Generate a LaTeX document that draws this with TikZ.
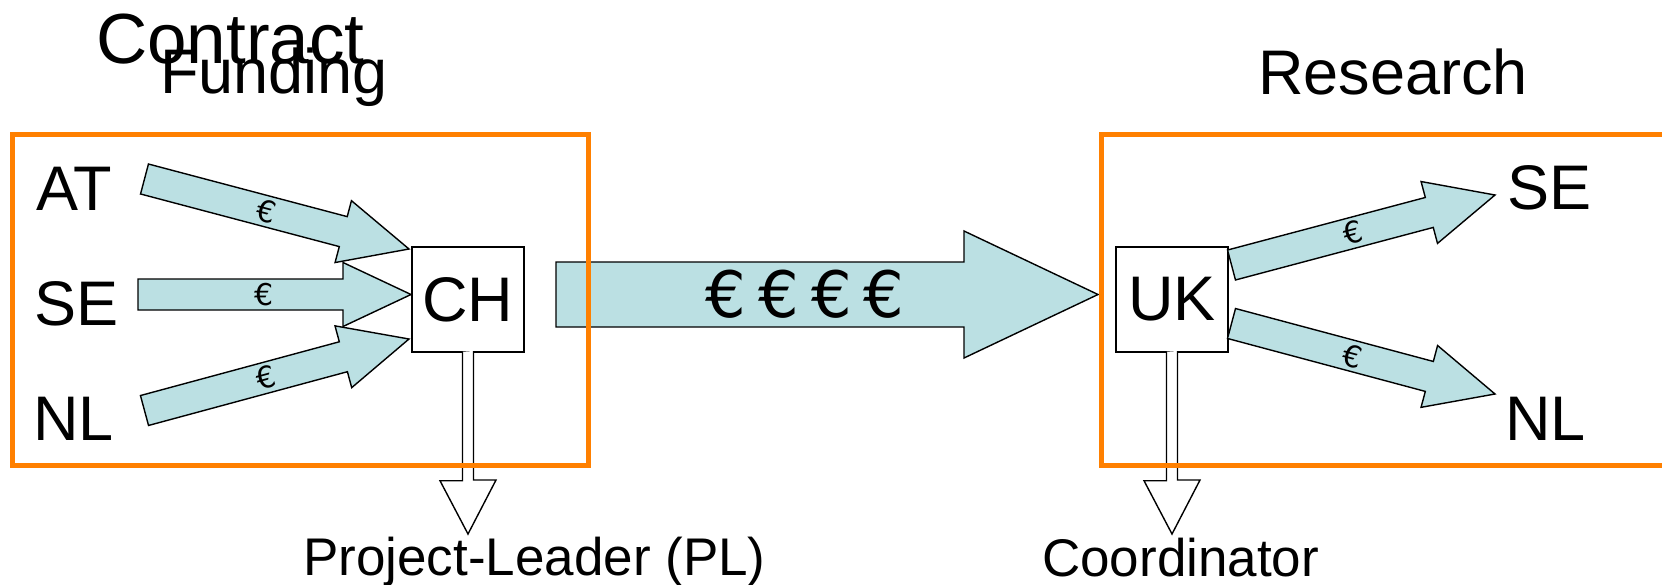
\documentclass[tikz,border=0pt]{standalone}
\usepackage{fontspec}
\setmainfont{Liberation Sans}
\newfontfamily\eurofont{DejaVu Sans}
\usetikzlibrary{calc}

\definecolor{fundorange}{RGB}{255,128,0}
\definecolor{flowblue}{RGB}{187,224,227}

\tikzset{
  fundbox/.style={draw=fundorange, line width=5pt},
  flowarrow/.style={draw=black, line width=1.4pt, fill=flowblue},
  leadarrow/.style={draw=black, line width=1.4pt, fill=white},
  hub/.style={draw=black, line width=1.4pt, fill=white, inner sep=0pt,
    minimum width=112pt, minimum height=105pt, font=\fontsize{63}{70}\selectfont},
  bigword/.style={anchor=base west, inner sep=0pt, font=\fontsize{63}{70}\selectfont},
  role/.style={anchor=base west, inner sep=0pt, font=\fontsize{53}{60}\selectfont},
  euro/.style={inner sep=0pt, font=\eurofont\fontsize{30}{34}\selectfont},
}

% block arrow from #2 to #3: half shaft #4, half head #5, head length #6, text #7
\newcommand{\cashflow}[7][flowarrow]{%
  \coordinate (cf-b) at ($(#3)!#6!(#2)$);
  \draw[#1] ($(#2)!#4!90:(#3)$) -- ($(cf-b)!#4!90:(#3)$)
    -- ($(cf-b)!#5!90:(#3)$) -- (#3) -- ($(cf-b)!#5!-90:(#3)$)
    -- ($(cf-b)!#4!-90:(#3)$) -- ($(#2)!#4!-90:(#3)$) -- cycle;
  \path (#2) -- (#3) node[pos=0.46, sloped, euro] {#7};
}

\begin{document}
\begin{tikzpicture}[x=1pt, y=-1pt]
\useasboundingbox (0,0) rectangle (1662,584);
\clip (0,0) rectangle (1662,584);

% headings
\node[bigword, font=\fontsize{71}{80}\selectfont] (contract) at (96,63) {Contract};
\node[bigword] (funding) at (160,93) {Funding};
\node[bigword] (research) at (1258,94) {Research};

% countries
\node[bigword] (src-at) at (36,210) {AT};
\node[bigword] (src-se) at (34,325) {SE};
\node[bigword] (src-nl) at (33,440) {NL};
\node[bigword] (dst-se) at (1507,209) {SE};
\node[bigword] (dst-nl) at (1505,440) {NL};

\node[hub] (ch) at (468,299.5) {CH};
\node[hub] (uk) at (1172,299.5) {UK};

% arrow ends
\coordinate (at-out) at (144.5,179);
\coordinate (se-out) at (138,294.5);
\coordinate (nl-out) at (144.5,410.5);
\coordinate (ch-in-at) at (409,249);
\coordinate (ch-in-se) at (411,294.5);
\coordinate (ch-in-nl) at (409,339);
\coordinate (ch-out) at (556,294.5);
\coordinate (uk-in) at (1098,294.5);
\coordinate (uk-out-se) at (1231.5,265);
\coordinate (uk-out-nl) at (1231.5,323.5);
\coordinate (se-in) at (1495,195);
\coordinate (nl-in) at (1495,394);
\coordinate (pl-tip) at (468,534);
\coordinate (co-tip) at (1172,534);

\foreach \src/\dst in {at-out/ch-in-at, se-out/ch-in-se, nl-out/ch-in-nl,
    uk-out-se/se-in, uk-out-nl/nl-in} {
  \cashflow{\src}{\dst}{15.5pt}{32pt}{68pt}{€}
}
\cashflow{ch-out}{uk-in}{32.5pt}{63.5pt}{134pt}{\fontsize{64}{70}\selectfont
  €\hspace{12pt}€\hspace{12pt}€\hspace{12pt}€}

% leader arrows
\draw[leadarrow] ([shift={(-5.5,-1)}]ch.south) -- ++(0,129) -- ++(-22.5,0)
  -- (pl-tip) -- ++(28,-54) -- ++(-22.5,0) -- ++(0,-129);
\draw[leadarrow] ([shift={(-5.5,-1)}]uk.south) -- ++(0,129) -- ++(-22.5,0)
  -- (co-tip) -- ++(28,-54) -- ++(-22.5,0) -- ++(0,-129);

\node[role] (pl) at (303,575) {Project-Leader (PL)};
\node[role] (coord) at (1042,576) {Coordinator};

% frames on top
\draw[fundbox] (12.5,134.5) rectangle (588,465);
\draw[fundbox] (1101,134.5) rectangle (1700,465);
\end{tikzpicture}
\end{document}
